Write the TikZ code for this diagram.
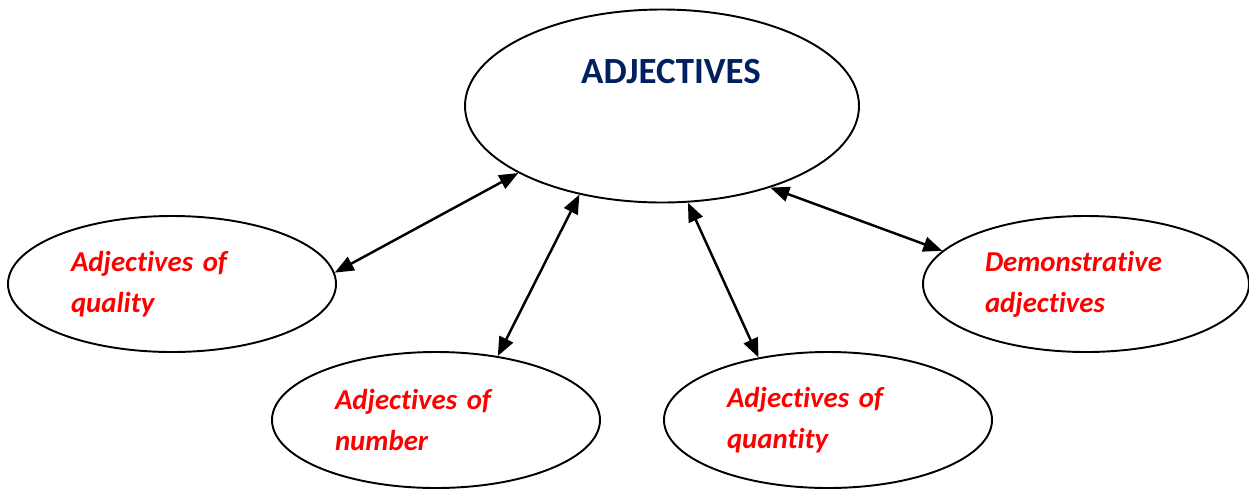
\documentclass[tikz,border=0pt]{standalone}
\usepackage{fontspec}
\setmainfont{Carlito}[Ligatures=NoCommon]
\usetikzlibrary{shapes.geometric,arrows.meta}
\definecolor{titleblue}{HTML}{002060}
\begin{document}
\begin{tikzpicture}[
  bubble/.style={draw, ellipse, line width=1.1pt, minimum width=6.56cm, minimum height=2.72cm,
    text width=4.04cm, align=left, text=red, font=\fontsize{16.4}{23.3}\selectfont\bfseries\itshape},
  link/.style={line width=1.4pt, {Triangle[length=0.38cm,width=0.3cm]}-{Triangle[length=0.38cm,width=0.3cm]}}
]
\useasboundingbox (0,0) rectangle (24.98,-9.78);
\node[draw, ellipse, line width=1.1pt, minimum width=7.88cm, minimum height=3.86cm] (main) at (13.24,-2.12) {};
\node[text=titleblue, font=\fontsize{21}{25}\selectfont\bfseries] (title) at ([shift={(0.18,0.68)}]main.center) {ADJECTIVES};
\node[bubble] (quality) at (3.44,-5.68) {Adjectives of\\quality};
\node[bubble] (number) at (8.72,-8.40) {Adjectives of\\number};
\node[bubble] (quantity) at (16.56,-8.40) {Adjectives of\\quantity};
\node[bubble, minimum width=6.52cm] (demo) at (21.72,-5.68) {Demonstrative\\adjectives};
\draw[link] (quality.4) -- (main.205.6);
\draw[link] (number.46) -- (main.227.5);
\draw[link] (quantity.138) -- (main.285.8);
\draw[link] (demo.167.6) -- (main.323.4);
\end{tikzpicture}
\end{document}
